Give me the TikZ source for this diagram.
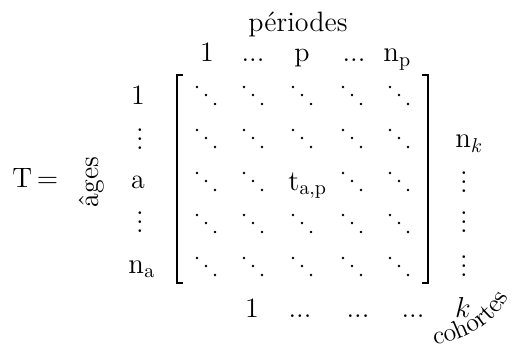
\documentclass[tikz,border=0pt]{standalone}
\usetikzlibrary{decorations.text}
\newcommand\myvd{\vbox{\baselineskip4.5pt \lineskiplimit0pt \hbox{.}\hbox{.}\hbox{.}}}
\begin{document}
\begin{tikzpicture}[x=0.5pt,y=-0.5pt,
  lbl/.style={inner sep=0pt, anchor=base, font=\fontsize{14}{17}\selectfont},
  lblw/.style={lbl, anchor=base west},
  brk/.style={line width=1pt},
  ddotspic/.pic={\fill (-9,-8) circle[radius=0.65pt] (0,0) circle[radius=0.65pt] (9,9) circle[radius=0.65pt];}
]
\useasboundingbox (0,0) rectangle (512,347);

% title
\node[lbl] (per) at (298,32) {périodes};
% column headers
\node[lbl] (h1) at (207,62) {1};
\node[lbl] (hd1) at (253,62) {...};
\node[lbl] (hp) at (302,62) {p};
\node[lbl] (hd2) at (354,62) {...};
\node[lblw] (hnp) at (383,62) {$\mathrm{n}_{\mathrm{p}}$};

% left part
\node[lblw] (T) at (12,187) {T\,=};
\node[lbl, anchor=center, rotate=90] (ages) at (92,182) {âges};
\node[lbl] (r1) at (138,105) {1};
\node[lbl] (rv1) at (140,149) {\myvd};
\node[lbl] (ra) at (138,188) {a};
\node[lbl] (rv2) at (140,232) {\myvd};
\node[lblw] (rna) at (128,273) {$\mathrm{n}_{\mathrm{a}}$};

% brackets
\draw[brk] (183,75) -- (177,75) -- (177,283) -- (183,283);
\draw[brk] (422,75) -- (428,75) -- (428,283) -- (422,283);

% matrix entries
\foreach \c in {206,253,302,352,399}{
  \foreach \r in {95,138,181,223,266}{
    \pgfmathtruncatemacro\isskip{(\c==302)&&(\r==181)}
    \ifnum\isskip=0 \pic at (\c,\r) {ddotspic};\fi
  }
}
\node[lblw] (tap) at (288,190) {$\mathrm{t}_{\mathrm{a,p}}$};

% right column
\node[lblw] (nk) at (455,148) {$\mathrm{n}_{k}$};
\node[lbl] (kv1) at (464,192) {\myvd};
\node[lbl] (kv2) at (464,232) {\myvd};
\node[lbl] (kv3) at (464,276) {\myvd};

% bottom row
\node[lbl] (b1) at (252,317) {1};
\node[lbl] (bd1) at (300,317) {...};
\node[lbl] (bd2) at (358,317) {...};
\node[lbl] (bd3) at (413,317) {...};
\node[lbl] (bk) at (463,317) {$k$};

% cohortes along an arc
\path[decorate, decoration={text along path, text align=left,
  text={|\fontsize{13}{16}\selectfont|cohortes}}]
  (434,344) .. controls (462,342) and (500,324) .. (514,286);
\end{tikzpicture}
\end{document}
